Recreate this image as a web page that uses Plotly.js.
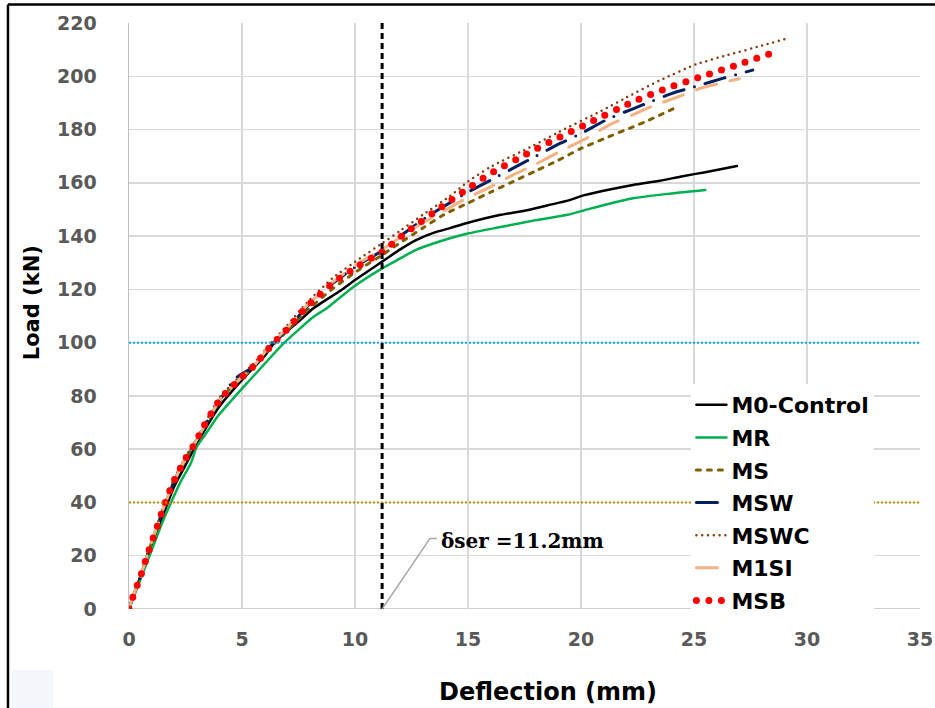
<!DOCTYPE html>
<html>
<head>
<meta charset="utf-8">
<script src="https://cdn.plot.ly/plotly-3.0.1.min.js"></script>
<style>
  html, body { margin: 0; padding: 0; background: #ffffff; }
  #chart { width: 935px; height: 708px; }
  .js-line { stroke-linecap: round !important; }
</style>
</head>
<body>
<div id="chart"></div>
<script>
// ---------- data ----------
const seriesNames = ["M0-Control", "MR", "MS", "MSW", "MSWC", "M1SI", "MSB"];

const m0Defl = [0, 0.5, 1.0, 1.5, 2.0, 2.5, 3.0, 4.0, 5.0, 6.0, 6.54, 7.58, 8.16, 9.35, 10.0, 11.2, 12.0, 12.7, 13.5, 14.2, 15.0, 16.4, 17.5, 18.5, 19.5, 20.0, 21.0, 22.3, 23.5, 24.5, 25.5, 26.9];
const m0Load = [0, 12, 23.5, 35, 46, 54, 62, 76, 86, 95, 101, 108.5, 112.9, 119.5, 123.5, 130.4, 135, 138.5, 141.3, 143, 145, 147.9, 149.5, 151.5, 153.5, 155, 157, 159.2, 160.8, 162.5, 164, 166.3];

const mrDefl = [0, 0.5, 1.0, 1.5, 1.84, 2.3, 2.73, 3.0, 3.5, 3.9, 4.5, 5.07, 6.0, 6.84, 8.17, 8.75, 9.94, 11.2, 12.0, 12.7, 13.5, 14.2, 15.0, 16.5, 18.0, 19.4, 20.5, 22.3, 24.0, 25.5];
const mrLoad = [0, 11, 22, 33, 39.6, 48, 54.6, 60.9, 67, 72.1, 78, 83.4, 92, 99.7, 109.7, 112.9, 121, 127.9, 131.6, 134.8, 137.3, 139.2, 141, 143.5, 146, 148, 150.5, 154.2, 156, 157.3];

const msDefl = [0, 0.15, 0.5, 0.75, 1.0, 1.25, 1.55, 2.0, 2.5, 3.0, 3.5, 4.06, 4.87, 5.5, 6.3, 7.0, 7.87, 9.05, 10.2, 11.2, 12.0, 13.0, 13.9, 15.0, 16.0, 17.0, 18.0, 19.0, 20.0, 21.0, 22.3, 23.0, 24.2];
const msLoad = [0, 4, 12, 18.4, 25, 31, 38.5, 48, 56.5, 63.5, 71, 79, 86, 90.5, 98.5, 104.5, 112, 120.5, 127.5, 132.9, 137.5, 143, 147.9, 152.4, 156.5, 160.5, 164.5, 168.5, 172.9, 176.5, 181, 183.5, 188.3];

const mswDefl = [0, 0.15, 0.5, 0.75, 1.0, 1.25, 1.55, 2.0, 2.5, 3.0, 3.5, 4.06, 4.7, 5.5, 6.3, 7.0, 7.87, 9.05, 10.2, 11.2, 12.0, 13.2, 14.0, 15.0, 16.0, 17.0, 18.0, 19.0, 20.0, 21.2, 22.3, 23.1, 24.0, 25.0, 26.3, 27.6];
const mswLoad = [0, 4, 12, 18.4, 25, 31, 38.5, 48, 56.5, 63.5, 71, 79, 86.5, 91, 99, 105, 113.5, 122.5, 129.5, 134.5, 140, 147.3, 151.5, 156.5, 161, 165.5, 170, 174.5, 178.5, 184, 187.8, 190.5, 193.5, 196, 199.3, 202.3];

const mswcDefl = [0, 0.15, 0.5, 0.75, 1.0, 1.25, 1.55, 2.0, 2.5, 3.0, 3.5, 4.06, 4.87, 5.5, 6.3, 7.0, 7.87, 9.05, 10.2, 11.2, 12.0, 13.0, 14.2, 15.0, 16.0, 17.9, 19.0, 20.9, 22.0, 23.5, 25.1, 26.5, 28.0, 29.1];
const mswcLoad = [0, 4, 12.5, 19, 25.5, 31.5, 39, 49, 57, 64, 72, 80, 87, 92, 100, 106.5, 115, 124.5, 131.5, 137.3, 142, 148, 155, 160.5, 166, 174, 179, 187, 192, 198.5, 204.5, 208, 211.5, 214.2];

const m1siDefl = [0, 0.15, 0.5, 0.75, 1.0, 1.25, 1.55, 2.0, 2.5, 3.0, 3.5, 4.06, 4.87, 5.5, 6.3, 7.0, 7.87, 9.05, 10.2, 11.2, 12.0, 13.0, 14.1, 15.0, 16.0, 17.0, 18.0, 19.0, 20.3, 21.2, 22.6, 23.1, 24.2, 25.3, 26.2, 27.0];
const m1siLoad = [0, 4, 12, 18.4, 25, 31, 38.5, 48, 56.5, 63.5, 71, 79, 86, 91, 99.5, 105.5, 114, 123, 130, 135, 139.5, 145, 150.2, 154.5, 158.5, 163, 167, 171.5, 177, 181.5, 186.7, 188.6, 192, 195.5, 197.5, 199.1];

const msbDefl = [0, 0.15, 0.5, 0.74, 1.0, 1.25, 1.54, 1.98, 2.5, 2.74, 3.0, 3.33, 4.06, 4.87, 5.5, 6.3, 7.0, 7.87, 9.05, 10.2, 11.2, 12.3, 14.0, 14.9, 16.0, 17.5, 18.9, 20.3, 22.3, 23.8, 25.3, 27.0, 28.4];
const msbLoad = [0, 4, 12, 18.4, 25, 31, 38.5, 48, 56.5, 59.6, 63.5, 69, 79, 86, 91, 99, 105, 113.5, 122.5, 129.1, 134.1, 141.6, 152, 157.3, 163.5, 170.4, 176.5, 182.3, 190.4, 195.5, 199.8, 204.5, 208.6];

const serviceDeflection = 11.2;       // vertical dashed line (mm)
const refLoadUpper = 100;             // blue dotted reference (kN)
const refLoadLower = 40;              // gold dotted reference (kN)
const xTickVals = [0, 5, 10, 15, 20, 25, 30, 35];
const yTickVals = [0, 20, 40, 60, 80, 100, 120, 140, 160, 180, 200, 220];
const annotationText = "δser =11.2mm";

// ---------- styles ----------
const styles = [
  {color: "#000000", width: 2.5, dash: "solid"},
  {color: "#00B050", width: 2.5, dash: "solid"},
  {color: "#7F6000", width: 3, dash: "4px,7px"},
  {color: "#002060", width: 3, dash: "21px,11px,0px,11px"},
  {color: "#843C0C", width: 2.5, dash: "0px,5.8px"},
  {color: "#F4B183", width: 3, dash: "21px,14px"},
  {color: "#FF0000", width: 7, dash: "0px,12.5px"}
];
const xs = [m0Defl, mrDefl, msDefl, mswDefl, mswcDefl, m1siDefl, msbDefl];
const ys = [m0Load, mrLoad, msLoad, mswLoad, mswcLoad, m1siLoad, msbLoad];

const traces = seriesNames.map((n, i) => ({
  type: "scatter", mode: "lines", name: n,
  x: xs[i], y: ys[i],
  legendgroup: "g" + i,
  line: {color: styles[i].color, width: styles[i].width, dash: styles[i].dash, shape: "spline", smoothing: 0.6},
  hoverinfo: "skip"
}));

const tickFont = {family: "DejaVu Sans", size: 19, color: "#595959", weight: "bold"};

const layout = {
  width: 935, height: 708,
  margin: {l: 129, r: 15, t: 23, b: 99},
  paper_bgcolor: "#ffffff", plot_bgcolor: "#ffffff",
  showlegend: true,
  legend: {
    x: 0.711, y: 0.384, xanchor: "left", yanchor: "top",
    bgcolor: "#ffffff", borderwidth: 0,
    font: {family: "DejaVu Sans", size: 22, color: "#000000", weight: "bold"},
    tracegroupgap: 1
  },
  xaxis: {
    range: [0, 35], tickvals: xTickVals, ticktext: xTickVals.map(String),
    showgrid: true, gridcolor: "#D9D9D9", gridwidth: 1.5,
    zeroline: false, showline: false, ticks: "",
    tickfont: tickFont, ticklabelstandoff: 17
  },
  yaxis: {
    range: [0, 220], tickvals: yTickVals, ticktext: yTickVals.map(String),
    showgrid: true, gridcolor: "#D9D9D9", gridwidth: 1.5,
    zeroline: false, showline: true, linecolor: "#BFBFBF", linewidth: 1.5, ticks: "",
    tickfont: tickFont, ticklabelstandoff: 27
  },
  shapes: [
    // outer frame (left & top)
    {type: "line", xref: "paper", yref: "paper", x0: -0.153, x1: -0.153, y0: 1.0315, y1: -0.2, line: {color: "#000000", width: 2.5}},
    {type: "line", xref: "paper", yref: "paper", x0: -0.153, x1: 1.03, y0: 1.0315, y1: 1.0315, line: {color: "#000000", width: 2.5}},
    // faint box bottom-left
    {type: "rect", xref: "paper", yref: "paper", x0: -0.1483, x1: -0.0961, y0: -0.17, y1: -0.1041, fillcolor: "#F4F8FC", line: {width: 0}},
    // bottom axis line
    {type: "line", xref: "x", yref: "y", x0: 0, x1: 35, y0: 0, y1: 0, line: {color: "#BFBFBF", width: 1.5}, layer: "below"},
    // reference lines
    {type: "line", xref: "x", yref: "y", x0: 0, x1: 35, y0: refLoadUpper, y1: refLoadUpper, line: {color: "#00B0F0", width: 2, dash: "2px,2px"}},
    {type: "line", xref: "x", yref: "y", x0: 0, x1: 35, y0: refLoadLower, y1: refLoadLower, line: {color: "#BF9000", width: 2, dash: "2px,2px"}},
    {type: "line", xref: "x", yref: "y", x0: serviceDeflection, x1: serviceDeflection, y0: 0, y1: 220, line: {color: "#000000", width: 3, dash: "6px,4px"}},
    // annotation leader
    {type: "path", xref: "x", yref: "y", path: "M 11.2 0 L 13.32 26.5 L 13.62 26.5", line: {color: "#A6A6A6", width: 1.5}}
  ],
  annotations: [
    {xref: "x", yref: "y", x: 13.72, y: 25.6, xanchor: "left", yanchor: "middle", showarrow: false,
     text: annotationText, font: {family: "DejaVu Serif", size: 20, color: "#000000", weight: "bold"}},
    {xref: "paper", yref: "paper", x: 0.53, y: -0.142, xanchor: "center", yanchor: "middle", showarrow: false,
     text: "Deflection (mm)", font: {family: "DejaVu Sans", size: 24, color: "#000000", weight: "bold"}},
    {xref: "paper", yref: "paper", x: -0.1225, y: 0.522, xanchor: "center", yanchor: "middle", showarrow: false, textangle: -90,
     text: "Load (kN)", font: {family: "DejaVu Sans", size: 21, color: "#000000", weight: "bold"}}
  ]
};

Plotly.newPlot("chart", traces, layout, {staticPlot: true, displayModeBar: false});
</script>
</body>
</html>
